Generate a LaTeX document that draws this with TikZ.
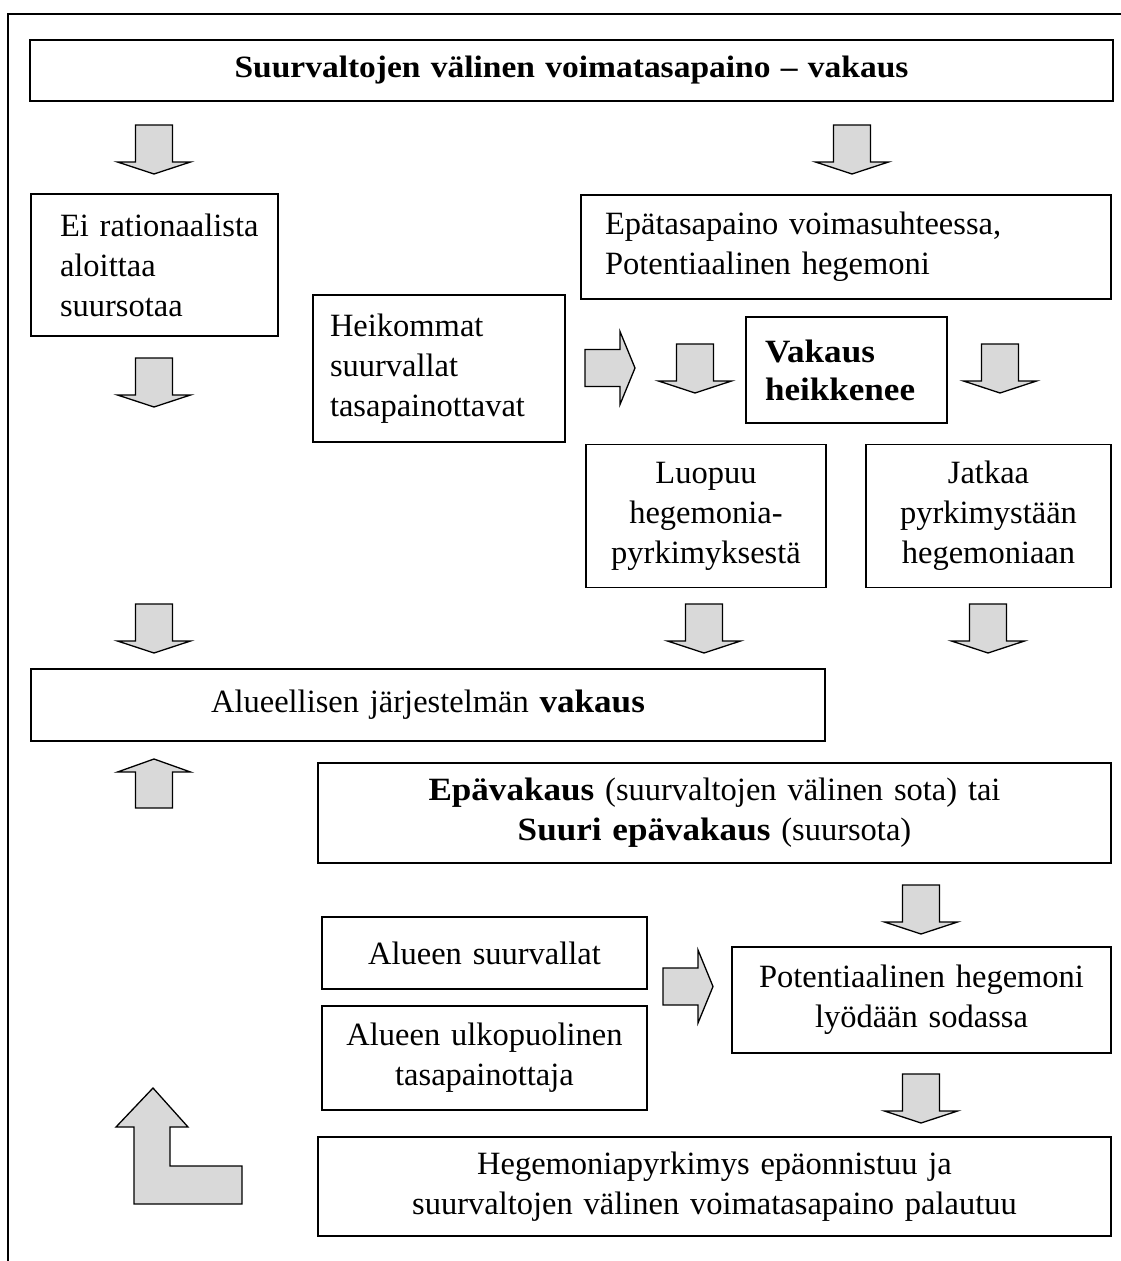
\documentclass[tikz,border=0pt]{standalone}
\usepackage{fontspec}
\setmainfont{Liberation Serif}[BoldFeatures={FakeStretch=1.08}]
\definecolor{arrowgray}{HTML}{D9D9D9}
\begin{document}
\hyphenpenalty=10000
\exhyphenpenalty=10000
\begin{tikzpicture}[x=1pt,y=-1pt,
  box/.style={draw, line width=1.7pt, inner ysep=0pt, font=\fontsize{32.5}{40}\selectfont},
  cbox/.style={box, align=center, inner xsep=8pt},
  lbox/.style={box, align=left},
  blockarrow/.style={draw, line width=1.3pt, fill=arrowgray, line join=miter},
  pics/downblock/.style={code={
    \draw[blockarrow] (-18.5,0) -- (18.5,0) -- (18.5,37) -- (36.5,37) -- (0,49)
      -- (-36.5,37) -- (-18.5,37) -- cycle;}},
  pics/upblock/.style={code={
    \draw[blockarrow] (0,0) -- (36.5,13) -- (18.5,13) -- (18.5,49) -- (-18.5,49)
      -- (-18.5,13) -- (-36.5,13) -- cycle;}},
  pics/rightblock/.style={code={
    \draw[blockarrow] (0,-18.5) -- (35,-18.5) -- (35,-36.5) -- (50,0) -- (35,36.5)
      -- (35,18.5) -- (0,18.5) -- cycle;}},
]
\useasboundingbox (0,0) rectangle (1120,1261);
\fill[white] (0,0) rectangle (1120,1261);

% outer frame (runs past the page on the right and at the bottom)
\draw[line width=1.7pt] (8,1300) -- (8,14) -- (1160,14);

% boxes
\node[cbox, minimum width=1083pt, minimum height=61pt, text width=1067pt,
      font=\fontsize{31}{40}\selectfont\bfseries] (title) at (571.5,70.5)
  {Suurvaltojen välinen voimatasapaino – vakaus};

\node[lbox, minimum width=247pt, minimum height=142pt, inner xsep=29pt, text width=189pt] (ei) at (154.5,265)
  {\mbox{Ei rationaalista}\\aloittaa\\suursotaa};

\node[lbox, minimum width=530pt, minimum height=104pt, inner xsep=24pt, text width=482pt] (epatas) at (846,247)
  {Epätasapaino voimasuhteessa,\\Potentiaalinen hegemoni};

\node[lbox, minimum width=252pt, minimum height=147pt, inner xsep=17pt, text width=218pt] (heik) at (439,368.5)
  {Heikommat\\suurvallat\\tasapainottavat};

\node[lbox, minimum width=201pt, minimum height=106pt, inner xsep=19pt, text width=163pt,
      font=\fontsize{32.5}{38}\selectfont\bfseries] (vak) at (846.5,370)
  {Vakaus\\heikkenee};

\node[cbox, minimum width=240pt, minimum height=143pt, text width=224pt] (luop) at (706,516)
  {Luopuu\\hegemonia-\\pyrkimyksestä};

\node[cbox, minimum width=245pt, minimum height=143pt, text width=229pt] (jatk) at (988.5,516)
  {Jatkaa\\pyrkimystään\\hegemoniaan};

\node[cbox, minimum width=794pt, minimum height=72pt, text width=778pt] (alue) at (428,705)
  {Alueellisen järjestelmän \textbf{vakaus}};

\node[cbox, minimum width=793pt, minimum height=100pt, text width=777pt] (epav) at (714.5,813)
  {\textbf{Epävakaus} (suurvaltojen välinen sota) tai\\\textbf{Suuri epävakaus} (suursota)};

\node[cbox, minimum width=325pt, minimum height=72pt, text width=309pt] (suurv) at (484.5,953)
  {Alueen suurvallat};

\node[cbox, minimum width=325pt, minimum height=104pt, text width=309pt] (ulko) at (484.5,1058)
  {Alueen ulkopuolinen\\tasapainottaja};

\node[cbox, minimum width=379pt, minimum height=106pt, text width=363pt] (pot) at (921.5,1000)
  {Potentiaalinen hegemoni\\lyödään sodassa};

\node[cbox, minimum width=793pt, minimum height=99pt, text width=777pt] (hege) at (714.5,1186.5)
  {Hegemoniapyrkimys epäonnistuu ja\\suurvaltojen välinen voimatasapaino palautuu};

% block arrows
\pic (a1) at (154,125) {downblock};
\pic (a2) at (852,125) {downblock};
\pic (a3) at (154,358) {downblock};
\pic (r1) at (585,368) {rightblock};
\pic (a4) at (695,344) {downblock};
\pic (a5) at (1000,344) {downblock};
\pic (a6) at (154,604) {downblock};
\pic (a7) at (704,604) {downblock};
\pic (a8) at (988,604) {downblock};
\pic (a9) at (154,759) {upblock};
\pic (a10) at (921,885) {downblock};
\pic (r2) at (663,986.5) {rightblock};
\pic (a11) at (921,1074) {downblock};

% bent arrow turning upwards
\draw[blockarrow] (242,1166) -- (170,1166) -- (170,1127) -- (188,1127) -- (153,1088)
  -- (116,1127) -- (134,1127) -- (134,1204) -- (242,1204) -- cycle;
\end{tikzpicture}
\end{document}
